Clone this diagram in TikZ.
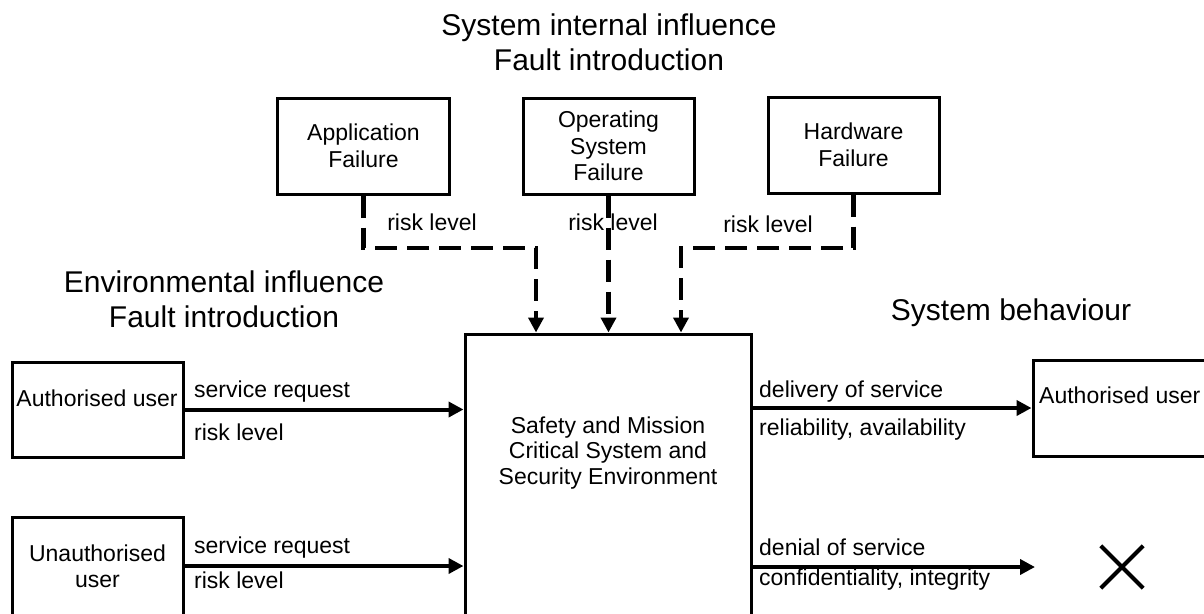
\documentclass[tikz,border=0pt]{standalone}
\usepackage{fontspec}
\setmainfont{Liberation Sans}
\usetikzlibrary{arrows.meta}
\begin{document}
\begin{tikzpicture}[x=1pt,y=-1pt,
  box/.style={draw,line width=3pt,inner sep=0pt,align=center,font=\fontsize{23}{26.5}\selectfont},
  lbl/.style={font=\fontsize{23}{26}\selectfont,inner sep=0pt},
  title/.style={font=\fontsize{30}{35}\selectfont,align=center,inner sep=0pt},
  flow/.style={line width=4pt,-{Triangle[length=15pt,width=15pt]}},
  dashline/.style={line width=4.5pt,dash pattern=on 22pt off 10pt,-{Triangle[length=15pt,width=15pt]}},
]
\useasboundingbox (0,0) rectangle (1204,613);
\clip (0,0) rectangle (1204,613);

% titles
\node[title] (t1) at (609,42) {System internal influence\\Fault introduction};
\node[title] (t2) at (224,299.5) {Environmental influence\\Fault introduction};
\node[title] (t3) at (1011,313) {System behaviour};

% top boxes
\node[box,minimum width=172pt,minimum height=96pt] (app) at (363.5,146) {Application\\Failure};
\node[box,minimum width=171pt,minimum height=96pt] (os) at (608.5,146) {Operating\\System\\Failure};
\node[box,minimum width=171pt,minimum height=96pt] (hw) at (853.5,145) {Hardware\\Failure};

% central box
\node[box,minimum width=286pt,minimum height=306pt] (cb) at (608,487) {};
\node[lbl,align=center,font=\fontsize{23}{25.5}\selectfont] (cbt) at (608,453) {Safety and Mission\\Critical System and\\Security Environment};

% left boxes
\node[box,minimum width=171pt,minimum height=95pt] (authL) at (97.5,409.5) {};
\node[lbl] (authLt) at (97,398) {Authorised user};
\node[box,minimum width=171pt,minimum height=123pt] (unauth) at (97.5,578.5) {};
\node[lbl,align=center] (unautht) at (97.5,566) {Unauthorised\\user};

% right box
\node[box,minimum width=207pt,minimum height=96pt] (authR) at (1136.5,408) {};
\node[lbl,anchor=west] (authRt) at (1039,395) {Authorised user};

% X mark
\node[minimum size=42pt,inner sep=0pt] (deny) at (1122,567) {};
\draw[line width=4pt] (deny.north west) -- (deny.south east);
\draw[line width=4pt] (deny.north east) -- (deny.south west);

% dashed influence lines
\coordinate (j1) at (536,248);
\coordinate (j3) at (681,248);
\draw[dashline] (app.south) |- (j1) -- (j1 |- cb.north);
\draw[dashline] (os.south) -- (os.south |- cb.north);
\draw[dashline] (hw.south) |- (j3) -- (j3 |- cb.north);

\node[lbl] (rA) at (432,222) {risk level};
\node[lbl] (rO) at (613,222) {risk level};
\node[lbl] (rH) at (768,224) {risk level};

% input arrows
\draw[flow] (authL.east) -- (authL.east -| cb.west);
\draw[flow] ([yshift=12.5pt]unauth.east) -- ([yshift=12.5pt]unauth.east -| cb.west);
\node[lbl,anchor=west] (sr1) at (194,392) {service request};
\node[lbl,anchor=west] (rl1) at (194,432) {risk level};
\node[lbl,anchor=west] (sr2) at (194,548) {service request};
\node[lbl,anchor=west] (rl2) at (194,580) {risk level};

% output arrows
\coordinate (dend) at (1035,567);
\draw[flow] (cb.east |- authR.west) -- (authR.west);
\draw[flow] (cb.east |- dend) -- (dend);
\node[lbl,anchor=west] (dos) at (759,392) {delivery of service};
\node[lbl,anchor=west] (ra) at (759,430) {reliability, availability};
\node[lbl,anchor=west] (den) at (759,547) {denial of service};
\node[lbl,anchor=west] (ci) at (759,580) {confidentiality, integrity};
\end{tikzpicture}
\end{document}
